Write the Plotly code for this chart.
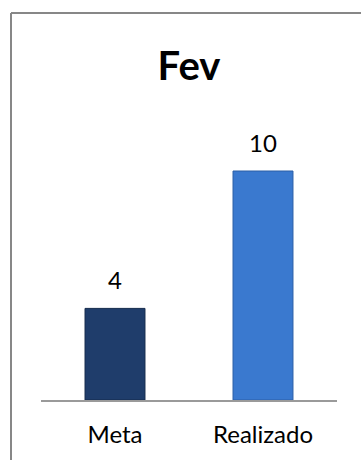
import plotly.graph_objects as go

categories = ["Meta", "Realizado"]
values = [4, 10]
bar_colors = ["#1f3d6b", "#3a79cf"]
edge_colors = ["#142a4c", "#2a5ea6"]
title_text = "Fev"

W, H = 361, 460
ml, mr, mt, mb = 41, 24, 100, 60
plot_h = H - mt - mb
px_per_unit = 22.9
ymax = plot_h / px_per_unit

fig = go.Figure()
fig.add_trace(go.Bar(
    x=categories, y=values,
    marker=dict(color=bar_colors, line=dict(color=edge_colors, width=1)),
    width=0.405,
    hoverinfo="skip",
))

for c, v in zip(categories, values):
    fig.add_annotation(x=c, y=v, text=str(v), showarrow=False,
                       yanchor="bottom", yshift=12,
                       font=dict(family="Lato", size=24, color="#000000"))

plot_w = W - ml - mr
bx = (11 - ml) / plot_w
by = (H - mb - 13) / plot_h
fig.add_shape(type="line", xref="paper", yref="paper", x0=bx, x1=bx, y0=by, y1=-mb / plot_h - 0.1,
              line=dict(color="#878787", width=2))
fig.add_shape(type="line", xref="paper", yref="paper", x0=bx, x1=(W - ml) / plot_w + 0.1, y0=by, y1=by,
              line=dict(color="#878787", width=2))

fig.update_layout(
    width=W, height=H,
    margin=dict(l=ml, r=mr, t=mt, b=mb),
    paper_bgcolor="#ffffff", plot_bgcolor="#ffffff",
    showlegend=False,
    title=dict(text="<b>" + title_text + "</b>", x=0.5, xref="paper",
               y=1 - 66 / H, yref="container", yanchor="middle", xanchor="center",
               font=dict(family="Lato", size=40, color="#000000")),
    xaxis=dict(showline=True, linecolor="#9a9a9a", linewidth=1.5, showgrid=False,
               ticks="", tickfont=dict(family="Lato", size=24, color="#000000"),
               ticklabelstandoff=12, fixedrange=True),
    yaxis=dict(visible=False, range=[0, ymax], fixedrange=True),
)

fig.write_html("out.html")
